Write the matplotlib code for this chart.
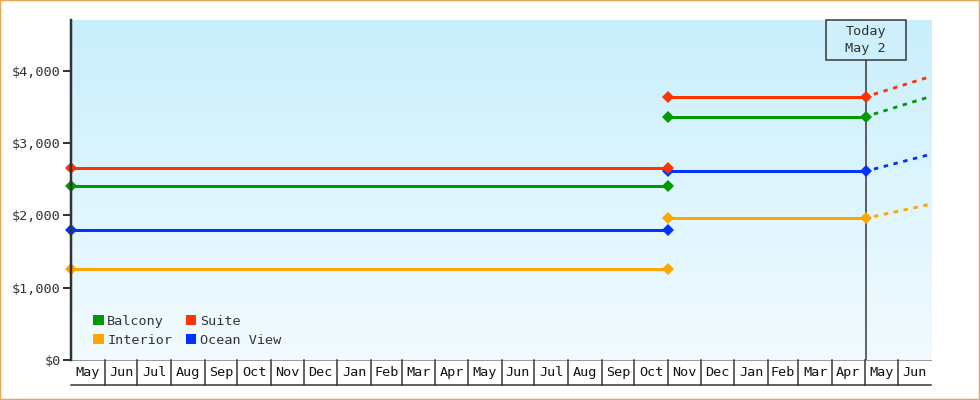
import datetime as dt
import numpy as np
import matplotlib
matplotlib.use("Agg")
import matplotlib.pyplot as plt
import matplotlib.dates as mdates
from matplotlib.patches import Rectangle, Patch
from matplotlib.ticker import FuncFormatter

# ---------------- data ----------------
series = ["Balcony", "Interior", "Suite", "Ocean View"]
colors = ["#009900", "#ffa500", "#ff3300", "#0033ff"]
period1_start = dt.date(2024, 5, 1)
period1_end = dt.date(2025, 11, 1)
period2_end = dt.date(2026, 5, 2)          # today
projection_end = dt.date(2026, 7, 1)
period1_values = [2400, 1255, 2650, 1795]
period2_values = [3365, 1960, 3640, 2610]
projection_values = [3645, 2155, 3920, 2845]
month_labels = ["May", "Jun", "Jul", "Aug", "Sep", "Oct", "Nov", "Dec", "Jan", "Feb", "Mar", "Apr",
                "May", "Jun", "Jul", "Aug", "Sep", "Oct", "Nov", "Dec", "Jan", "Feb", "Mar", "Apr",
                "May", "Jun"]
y_ticks = [0, 1000, 2000, 3000, 4000]
today_label = "Today\nMay 2"

# ---------------- style ----------------
FONT = "DejaVu Sans Mono"
FS = 9.7
TXT = "#333333"
PX = 72 / 100.0  # points per pixel

fig = plt.figure(figsize=(9.8, 4.0), dpi=100)
fig.patch.set_facecolor("white")
fig.patches.append(Rectangle((0, 0), 1, 1, transform=fig.transFigure, fill=False,
                             edgecolor="#e8a85c", linewidth=2.5 * PX, zorder=10))

L, R, T, B = 71, 931, 20, 360
ax = fig.add_axes([L / 980, 1 - B / 400, (R - L) / 980, (B - T) / 400])

xmin = mdates.date2num(period1_start)
xmax = mdates.date2num(projection_end)
ax.set_xlim(xmin, xmax)
ax.set_ylim(0, 4700)

# gradient background
top = np.array([201, 239, 252]) / 255.0
bot = np.array([242, 251, 255]) / 255.0
g = np.linspace(0, 1, 256)[:, None]
img = top[None, None, :] * (1 - g[:, :, None]) + bot[None, None, :] * g[:, :, None]
ax.imshow(img, extent=(0, 1, 0, 1), transform=ax.transAxes, aspect="auto", zorder=0)
ax.set_facecolor("none")

for s in ["top", "right", "bottom"]:
    ax.spines[s].set_visible(False)
ax.spines["left"].set_linewidth(2.5 * PX)
ax.spines["left"].set_color(TXT)
ax.spines["left"].set_zorder(6)

ax.set_yticks(y_ticks)
ax.yaxis.set_major_formatter(FuncFormatter(lambda v, p: "${:,.0f}".format(v)))
ax.tick_params(axis="y", length=6, width=2 * PX, color=TXT, pad=1.5, labelcolor=TXT,
               labelsize=FS, labelfontfamily=FONT)
ax.set_xticks([])

# today line
today = mdates.date2num(period2_end)
ax.plot([today, today], [0, 4700 * (1 - 40 / 340)], color=TXT, lw=1.5 * PX, zorder=2)

# series
lw = 3 * PX
d1s = mdates.date2num(period1_start)
d1e = mdates.date2num(period1_end)
d2e = mdates.date2num(projection_end)
for i in range(len(series)):
    c = colors[i]
    ax.plot([today, d2e], [period2_values[i], projection_values[i]], color=c,
            lw=2.8 * PX, linestyle=(0.6, (1.6, 2.0)), zorder=3, clip_on=True,
            dash_capstyle="butt")
for i in range(len(series)):
    c = colors[i]
    ax.plot([d1e, today], [period2_values[i], period2_values[i]], color=c, lw=lw,
            marker="D", markersize=6.4, markeredgewidth=0, zorder=4, clip_on=False)
for i in range(len(series)):
    c = colors[i]
    ax.plot([d1s, d1e], [period1_values[i], period1_values[i]], color=c, lw=lw,
            marker="D", markersize=6.4, markeredgewidth=0, zorder=5, clip_on=False)

# month boxes below axis
months = []
y, m = 2024, 5
for k in range(len(month_labels) + 1):
    months.append(dt.date(y, m, 1))
    m += 1
    if m > 12:
        m = 1
        y += 1
mnums = [mdates.date2num(d) for d in months]
trans = ax.get_xaxis_transform()
box_h = 25 / 340
ax.plot([xmin, xmax], [0, 0], transform=trans, color="#999999", lw=1 * PX, clip_on=False, zorder=1)
ax.plot([xmin, xmax], [-box_h, -box_h], transform=trans, color=TXT, lw=1.5 * PX, clip_on=False)
for k, lab in enumerate(month_labels):
    a, b = mnums[k], min(mnums[k + 1], xmax)
    if k > 0:
        ax.plot([a, a], [0, -box_h], transform=trans, color=TXT, lw=1.5 * PX, clip_on=False)
    ax.text((a + b) / 2, -box_h / 2, lab, transform=trans, ha="center", va="center",
            fontsize=FS, family=FONT, color="#111111")

# today box
bw = 80 / 860
bh = 40 / 340
xa = (today - xmin) / (xmax - xmin)
ax.add_patch(Rectangle((xa - bw / 2, 1 - bh), bw, bh, transform=ax.transAxes,
                       facecolor="#cdf0fc", edgecolor=TXT, lw=1.5 * PX, zorder=7, clip_on=False))
ax.text(xa, 1 - bh / 2, today_label, transform=ax.transAxes, ha="center", va="center",
        fontsize=FS, family=FONT, color=TXT, linespacing=1.35, zorder=8)

# legend
handles = [Patch(facecolor=colors[i], edgecolor="none", label=series[i]) for i in range(len(series))]
leg = ax.legend(handles=handles, ncol=2, loc="lower left", bbox_to_anchor=(22 / 860, 13 / 340),
                frameon=False, borderpad=0, borderaxespad=0, handlelength=0.8, handleheight=0.8,
                handletextpad=0.25, columnspacing=1.0, labelspacing=0.45,
                prop={"family": FONT, "size": FS})
for t in leg.get_texts():
    t.set_color(TXT)

fig.savefig("out.png", dpi=100)
